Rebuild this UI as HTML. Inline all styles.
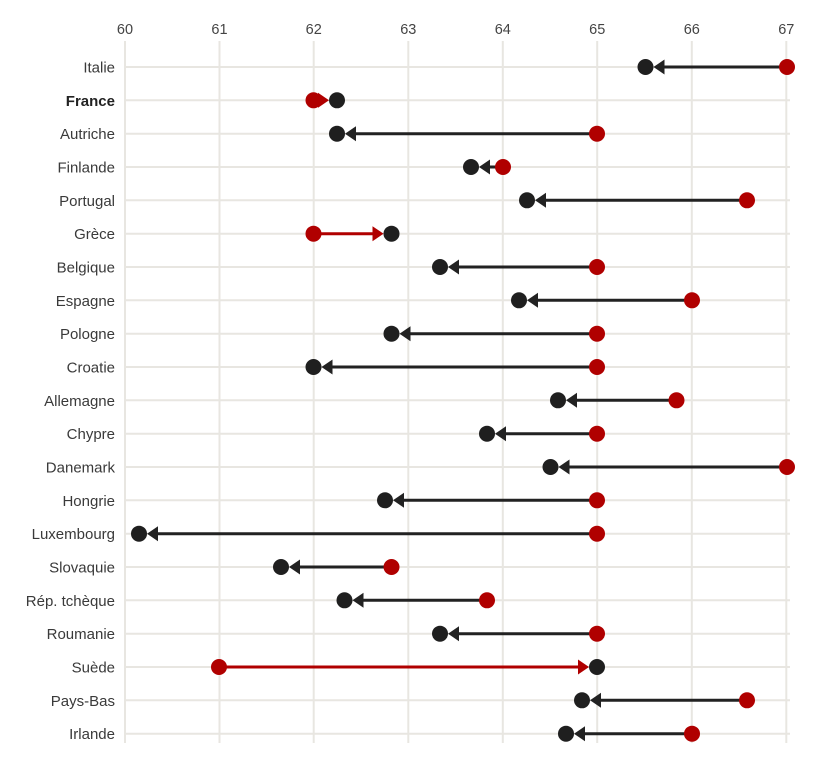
<!DOCTYPE html>
<html><head><meta charset="utf-8"><style>
html,body{margin:0;padding:0;background:#fff;}
svg{display:block;}
text{font-family:"Liberation Sans",sans-serif;}
</style></head><body>
<svg width="824" height="773" viewBox="0 0 824 773" xmlns="http://www.w3.org/2000/svg">
<g stroke="#e8e6e1" stroke-width="2">
<line x1="125" y1="41" x2="125" y2="743"/>
<line x1="219.5" y1="41" x2="219.5" y2="743"/>
<line x1="313.7" y1="41" x2="313.7" y2="743"/>
<line x1="408.3" y1="41" x2="408.3" y2="743"/>
<line x1="502.8" y1="41" x2="502.8" y2="743"/>
<line x1="597.2" y1="41" x2="597.2" y2="743"/>
<line x1="691.8" y1="41" x2="691.8" y2="743"/>
<line x1="786.3" y1="41" x2="786.3" y2="743"/>
</g>
<g stroke="#e8e6e1" stroke-width="2">
<line x1="125" y1="67" x2="790" y2="67"/>
<line x1="125" y1="100.3" x2="790" y2="100.3"/>
<line x1="125" y1="133.7" x2="790" y2="133.7"/>
<line x1="125" y1="167" x2="790" y2="167"/>
<line x1="125" y1="200.3" x2="790" y2="200.3"/>
<line x1="125" y1="233.7" x2="790" y2="233.7"/>
<line x1="125" y1="267" x2="790" y2="267"/>
<line x1="125" y1="300.3" x2="790" y2="300.3"/>
<line x1="125" y1="333.7" x2="790" y2="333.7"/>
<line x1="125" y1="367" x2="790" y2="367"/>
<line x1="125" y1="400.3" x2="790" y2="400.3"/>
<line x1="125" y1="433.7" x2="790" y2="433.7"/>
<line x1="125" y1="467" x2="790" y2="467"/>
<line x1="125" y1="500.3" x2="790" y2="500.3"/>
<line x1="125" y1="533.7" x2="790" y2="533.7"/>
<line x1="125" y1="567" x2="790" y2="567"/>
<line x1="125" y1="600.3" x2="790" y2="600.3"/>
<line x1="125" y1="633.7" x2="790" y2="633.7"/>
<line x1="125" y1="667" x2="790" y2="667"/>
<line x1="125" y1="700.3" x2="790" y2="700.3"/>
<line x1="125" y1="733.7" x2="790" y2="733.7"/>
</g>
<g font-size="14.5" fill="#444" text-anchor="middle">
<text x="125" y="34">60</text>
<text x="219.5" y="34">61</text>
<text x="313.7" y="34">62</text>
<text x="408.3" y="34">63</text>
<text x="502.8" y="34">64</text>
<text x="597.2" y="34">65</text>
<text x="691.8" y="34">66</text>
<text x="786.3" y="34">67</text>
</g>
<g font-size="15" fill="#3a3a3a" text-anchor="end">
<text x="115" y="72.5">Italie</text>
<text x="115" y="105.8" font-weight="bold" fill="#222">France</text>
<text x="115" y="139.2">Autriche</text>
<text x="115" y="172.5">Finlande</text>
<text x="115" y="205.8">Portugal</text>
<text x="115" y="239.2">Grèce</text>
<text x="115" y="272.5">Belgique</text>
<text x="115" y="305.8">Espagne</text>
<text x="115" y="339.2">Pologne</text>
<text x="115" y="372.5">Croatie</text>
<text x="115" y="405.8">Allemagne</text>
<text x="115" y="439.2">Chypre</text>
<text x="115" y="472.5">Danemark</text>
<text x="115" y="505.8">Hongrie</text>
<text x="115" y="539.2">Luxembourg</text>
<text x="115" y="572.5">Slovaquie</text>
<text x="115" y="605.8">Rép. tchèque</text>
<text x="115" y="639.2">Roumanie</text>
<text x="115" y="672.5">Suède</text>
<text x="115" y="705.8">Pays-Bas</text>
<text x="115" y="739.2">Irlande</text>
</g>
<!-- lines -->
<g stroke="#222" stroke-width="3">
<line x1="787" y1="67" x2="662" y2="67"/>
<line x1="597" y1="133.7" x2="354" y2="133.7"/>
<line x1="503" y1="167" x2="488" y2="167"/>
<line x1="747" y1="200.3" x2="544" y2="200.3"/>
<line x1="597" y1="267" x2="457" y2="267"/>
<line x1="692" y1="300.3" x2="536" y2="300.3"/>
<line x1="597" y1="333.7" x2="408.5" y2="333.7"/>
<line x1="597" y1="367" x2="330.5" y2="367"/>
<line x1="676.5" y1="400.3" x2="575" y2="400.3"/>
<line x1="597" y1="433.7" x2="504" y2="433.7"/>
<line x1="787" y1="467" x2="567.5" y2="467"/>
<line x1="597" y1="500.3" x2="402" y2="500.3"/>
<line x1="597" y1="533.7" x2="156" y2="533.7"/>
<line x1="391.5" y1="567" x2="298" y2="567"/>
<line x1="487" y1="600.3" x2="361.5" y2="600.3"/>
<line x1="597" y1="633.7" x2="457" y2="633.7"/>
<line x1="747" y1="700.3" x2="599" y2="700.3"/>
<line x1="692" y1="733.7" x2="583" y2="733.7"/>
</g>
<g stroke="#b00000" stroke-width="3">
<line x1="313.5" y1="100.3" x2="319" y2="100.3"/>
<line x1="313.5" y1="233.7" x2="373.5" y2="233.7"/>
<line x1="219" y1="667" x2="579" y2="667"/>
</g>
<!-- arrows -->
<g fill="#222">
<polygon points="653.5,67 664.5,59.5 664.5,74.5"/>
<polygon points="345,133.7 356,126.2 356,141.2"/>
<polygon points="479,167 490,159.5 490,174.5"/>
<polygon points="535,200.3 546,192.8 546,207.8"/>
<polygon points="448,267 459,259.5 459,274.5"/>
<polygon points="527,300.3 538,292.8 538,307.8"/>
<polygon points="399.5,333.7 410.5,326.2 410.5,341.2"/>
<polygon points="321.5,367 332.5,359.5 332.5,374.5"/>
<polygon points="566,400.3 577,392.8 577,407.8"/>
<polygon points="495,433.7 506,426.2 506,441.2"/>
<polygon points="558.5,467 569.5,459.5 569.5,474.5"/>
<polygon points="393,500.3 404,492.8 404,507.8"/>
<polygon points="147,533.7 158,526.2 158,541.2"/>
<polygon points="289,567 300,559.5 300,574.5"/>
<polygon points="352.5,600.3 363.5,592.8 363.5,607.8"/>
<polygon points="448,633.7 459,626.2 459,641.2"/>
<polygon points="590,700.3 601,692.8 601,707.8"/>
<polygon points="574,733.7 585,726.2 585,741.2"/>
</g>
<g fill="#b00000">
<polygon points="329,100.3 318,92.8 318,107.8"/>
<polygon points="383.5,233.7 372.5,226.2 372.5,241.2"/>
<polygon points="589,667 578,659.5 578,674.5"/>
</g>
<!-- red dots -->
<g fill="#b00000">
<circle cx="787" cy="67" r="8"/>
<circle cx="313.5" cy="100.3" r="8"/>
<circle cx="597" cy="133.7" r="8"/>
<circle cx="503" cy="167" r="8"/>
<circle cx="747" cy="200.3" r="8"/>
<circle cx="313.5" cy="233.7" r="8"/>
<circle cx="597" cy="267" r="8"/>
<circle cx="692" cy="300.3" r="8"/>
<circle cx="597" cy="333.7" r="8"/>
<circle cx="597" cy="367" r="8"/>
<circle cx="676.5" cy="400.3" r="8"/>
<circle cx="597" cy="433.7" r="8"/>
<circle cx="787" cy="467" r="8"/>
<circle cx="597" cy="500.3" r="8"/>
<circle cx="597" cy="533.7" r="8"/>
<circle cx="391.5" cy="567" r="8"/>
<circle cx="487" cy="600.3" r="8"/>
<circle cx="597" cy="633.7" r="8"/>
<circle cx="219" cy="667" r="8"/>
<circle cx="747" cy="700.3" r="8"/>
<circle cx="692" cy="733.7" r="8"/>
</g>
<!-- black dots -->
<g fill="#1f1f1f">
<circle cx="645.5" cy="67" r="8"/>
<circle cx="337" cy="100.3" r="8"/>
<circle cx="337" cy="133.7" r="8"/>
<circle cx="471" cy="167" r="8"/>
<circle cx="527" cy="200.3" r="8"/>
<circle cx="391.5" cy="233.7" r="8"/>
<circle cx="440" cy="267" r="8"/>
<circle cx="519" cy="300.3" r="8"/>
<circle cx="391.5" cy="333.7" r="8"/>
<circle cx="313.5" cy="367" r="8"/>
<circle cx="558" cy="400.3" r="8"/>
<circle cx="487" cy="433.7" r="8"/>
<circle cx="550.5" cy="467" r="8"/>
<circle cx="385" cy="500.3" r="8"/>
<circle cx="139" cy="533.7" r="8"/>
<circle cx="281" cy="567" r="8"/>
<circle cx="344.5" cy="600.3" r="8"/>
<circle cx="440" cy="633.7" r="8"/>
<circle cx="597" cy="667" r="8"/>
<circle cx="582" cy="700.3" r="8"/>
<circle cx="566" cy="733.7" r="8"/>
</g>
</svg>
</body></html>
